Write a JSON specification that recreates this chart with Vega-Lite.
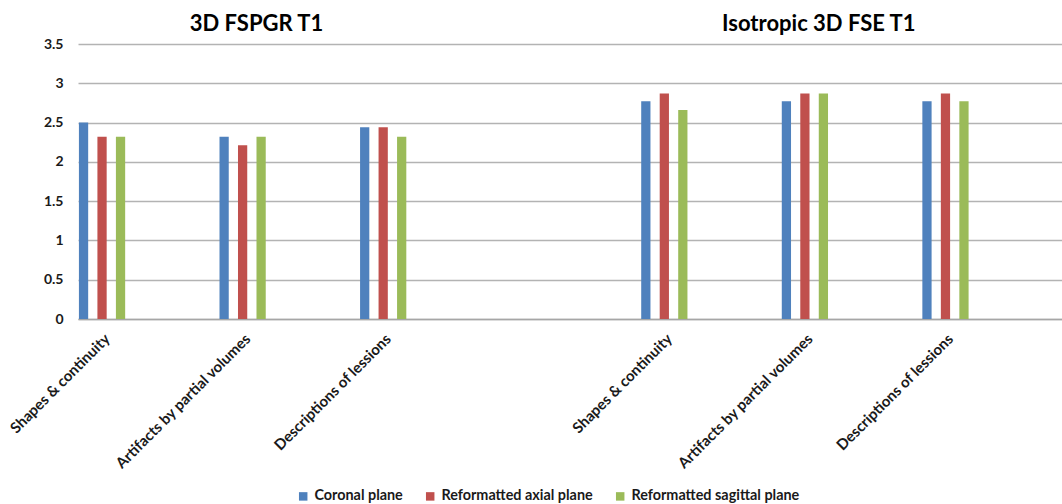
{
  "$schema": "https://vega.github.io/schema/vega-lite/v6.json",
  "width": 984,
  "height": 275,
  "padding": {"left": 5, "top": 13, "right": 0, "bottom": 0},
  "background": "white",
  "datasets": {
    "bars": [
      {"cat": "FSPGR|Shapes & continuity", "series": "Coronal plane", "score": 2.5},
      {"cat": "FSPGR|Shapes & continuity", "series": "Reformatted axial plane", "score": 2.32},
      {"cat": "FSPGR|Shapes & continuity", "series": "Reformatted sagittal plane", "score": 2.32},
      {"cat": "FSPGR|Artifacts by partial volumes", "series": "Coronal plane", "score": 2.32},
      {"cat": "FSPGR|Artifacts by partial volumes", "series": "Reformatted axial plane", "score": 2.21},
      {"cat": "FSPGR|Artifacts by partial volumes", "series": "Reformatted sagittal plane", "score": 2.32},
      {"cat": "FSPGR|Descriptions of lessions", "series": "Coronal plane", "score": 2.44},
      {"cat": "FSPGR|Descriptions of lessions", "series": "Reformatted axial plane", "score": 2.44},
      {"cat": "FSPGR|Descriptions of lessions", "series": "Reformatted sagittal plane", "score": 2.32},
      {"cat": "FSE|Shapes & continuity", "series": "Coronal plane", "score": 2.77},
      {"cat": "FSE|Shapes & continuity", "series": "Reformatted axial plane", "score": 2.87},
      {"cat": "FSE|Shapes & continuity", "series": "Reformatted sagittal plane", "score": 2.66},
      {"cat": "FSE|Artifacts by partial volumes", "series": "Coronal plane", "score": 2.77},
      {"cat": "FSE|Artifacts by partial volumes", "series": "Reformatted axial plane", "score": 2.87},
      {"cat": "FSE|Artifacts by partial volumes", "series": "Reformatted sagittal plane", "score": 2.87},
      {"cat": "FSE|Descriptions of lessions", "series": "Coronal plane", "score": 2.77},
      {"cat": "FSE|Descriptions of lessions", "series": "Reformatted axial plane", "score": 2.87},
      {"cat": "FSE|Descriptions of lessions", "series": "Reformatted sagittal plane", "score": 2.77}
    ],
    "titles": [
      {"cat": "FSPGR|Artifacts by partial volumes", "title": "3D FSPGR T1"},
      {"cat": "FSE|Artifacts by partial volumes", "title": "Isotropic 3D FSE T1"}
    ]
  },
  "layer": [
    {
      "data": {"name": "bars"},
      "mark": {"type": "bar"},
      "encoding": {
        "x": {
          "field": "cat",
          "type": "nominal",
          "sort": null,
          "scale": {
            "domain": ["FSPGR|Shapes & continuity", "FSPGR|Artifacts by partial volumes", "FSPGR|Descriptions of lessions", "gap|", "FSE|Shapes & continuity", "FSE|Artifacts by partial volumes", "FSE|Descriptions of lessions"],
            "paddingInner": 0,
            "paddingOuter": 0
          },
          "axis": {
            "title": null,
            "labelExpr": "split(datum.value, '|')[1]",
            "labelAngle": -45,
            "labelAlign": "right",
            "labelBaseline": "top",
            "labelOffset": -46,
            "labelPadding": 12,
            "labelLimit": 400,
            "ticks": false,
            "domainColor": "#a6a6a6",
            "domainWidth": 1.5,
            "labelFont": "Lato",
            "labelFontWeight": "bold",
            "labelFontSize": 15,
            "labelColor": "#1a1a1a",
            "grid": false
          }
        },
        "xOffset": {
          "field": "series",
          "type": "nominal",
          "scale": {
            "domain": ["Coronal plane", "Reformatted axial plane", "Reformatted sagittal plane", "e1", "e2", "e3", "e4", "e5"],
            "paddingInner": 0.5,
            "paddingOuter": 0.05
          }
        },
        "y": {
          "field": "score",
          "type": "quantitative",
          "scale": {"domain": [0, 3.5], "nice": false},
          "axis": {
            "title": null,
            "values": [0, 0.5, 1, 1.5, 2, 2.5, 3, 3.5],
            "format": ".2~f",
            "labelOverlap": false,
            "ticks": false,
            "domain": false,
            "gridColor": "#b3b3b3",
            "gridWidth": 1.5,
            "labelPadding": 15,
            "minExtent": 73,
            "labelFont": "Lato",
            "labelFontWeight": "bold",
            "labelFontSize": 14,
            "labelColor": "#1a1a1a"
          }
        },
        "color": {
          "field": "series",
          "type": "nominal",
          "scale": {
            "domain": ["Coronal plane", "Reformatted axial plane", "Reformatted sagittal plane"],
            "range": ["#4f81bd", "#c0504d", "#9bbb59"]
          },
          "legend": {
            "title": null,
            "orient": "none",
            "legendX": 218,
            "legendY": 445,
            "direction": "horizontal",
            "symbolType": "square",
            "symbolSize": 72,
            "symbolStrokeWidth": 0,
            "labelOffset": 4,
            "labelFont": "Lato",
            "labelFontWeight": "bold",
            "labelFontSize": 14.4,
            "labelColor": "#1a1a1a",
            "labelLimit": 400,
            "columnPadding": 20
          }
        }
      }
    },
    {
      "data": {"name": "titles"},
      "mark": {"type": "text", "font": "Lato", "fontWeight": "bold", "fontSize": 22, "baseline": "alphabetic", "align": "center", "dy": -13, "color": "#000000"},
      "encoding": {
        "x": {"field": "cat", "type": "nominal", "bandPosition": 0.27},
        "y": {
          "datum": 3.5,
          "type": "quantitative",
          "axis": {
            "title": null,
            "values": [0, 0.5, 1, 1.5, 2, 2.5, 3, 3.5],
            "format": ".2~f",
            "labelOverlap": false,
            "ticks": false,
            "domain": false,
            "gridColor": "#b3b3b3",
            "gridWidth": 1.5,
            "labelPadding": 15,
            "minExtent": 73,
            "labelFont": "Lato",
            "labelFontWeight": "bold",
            "labelFontSize": 14,
            "labelColor": "#1a1a1a"
          }
        },
        "text": {"field": "title"}
      }
    }
  ],
  "config": {
    "view": {"stroke": null}
  }
}
